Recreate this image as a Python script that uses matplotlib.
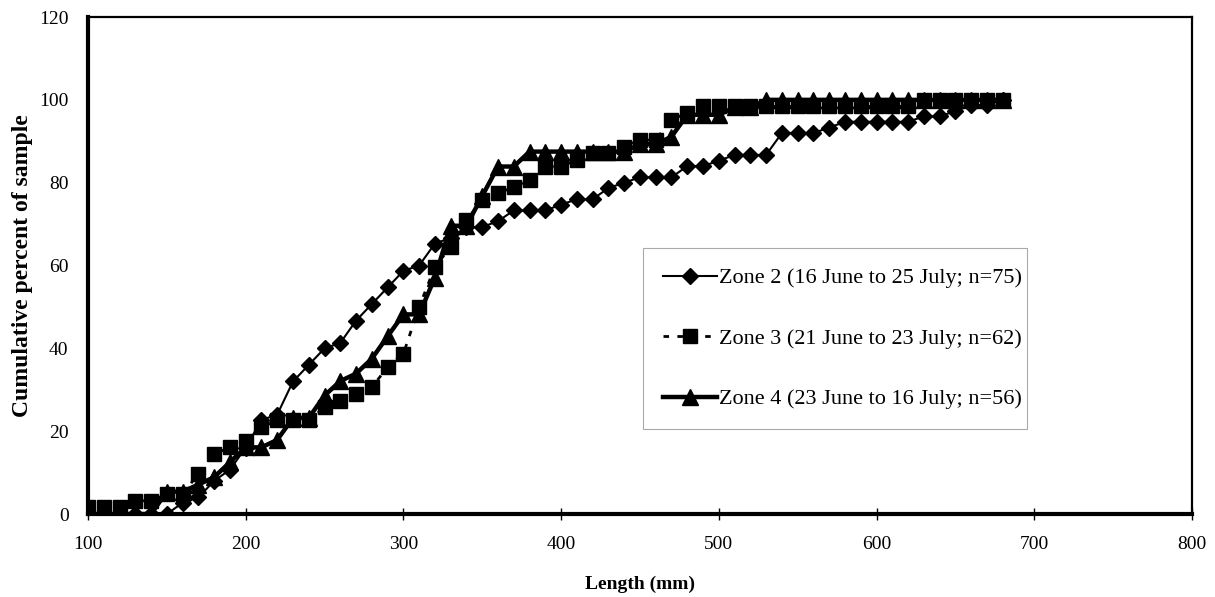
import matplotlib
matplotlib.use('Agg')
import matplotlib.pyplot as plt

plt.rcParams['font.family'] = ['Liberation Serif', 'DejaVu Serif']

# length classes (mm)
lengths = [100, 110, 120, 130, 140, 150, 160, 170, 180, 190,
           200, 210, 220, 230, 240, 250, 260, 270, 280, 290,
           300, 310, 320, 330, 340, 350, 360, 370, 380, 390,
           400, 410, 420, 430, 440, 450, 460, 470, 480, 490,
           500, 510, 520, 530, 540, 550, 560, 570, 580, 590,
           600, 610, 620, 630, 640, 650, 660, 670, 680]

# cumulative percent of sample per zone
zone2 = [0, 0, 0, 0, 0, 0, 2.7, 4.0, 8.0, 10.7,
         16.0, 22.7, 24.0, 32.0, 36.0, 40.0, 41.3, 46.7, 50.7, 54.7,
         58.7, 60.0, 65.3, 66.7, 69.3, 69.3, 70.7, 73.3, 73.3, 73.3,
         74.7, 76.0, 76.0, 78.7, 80.0, 81.3, 81.3, 81.3, 84.0, 84.0,
         85.3, 86.7, 86.7, 86.7, 92.0, 92.0, 92.0, 93.3, 94.7, 94.7,
         94.7, 94.7, 94.7, 96.0, 96.0, 97.3, 98.7, 98.7, 100.0]
zone3 = [1.6, 1.6, 1.6, 3.2, 3.2, 4.8, 4.8, 9.7, 14.5, 16.1,
         17.7, 21.0, 22.6, 22.6, 22.6, 25.8, 27.4, 29.0, 30.6, 35.5,
         38.7, 50.0, 59.7, 64.5, 71.0, 75.8, 77.4, 79.0, 80.6, 83.9,
         83.9, 85.5, 87.1, 87.1, 88.7, 90.3, 90.3, 95.2, 96.8, 98.4,
         98.4, 98.4, 98.4, 98.4, 98.4, 98.4, 98.4, 98.4, 98.4, 98.4,
         98.4, 98.4, 98.4, 100.0, 100.0, 100.0, 100.0, 100.0, 100.0]
zone4 = [0, 0, 0, 0, 0, 5.4, 5.4, 7.1, 8.9, 12.5,
         16.1, 16.1, 17.9, 23.2, 23.2, 28.6, 32.1, 33.9, 37.5, 42.9,
         48.2, 48.2, 57.1, 69.6, 69.6, 76.8, 83.9, 83.9, 87.5, 87.5,
         87.5, 87.5, 87.5, 87.5, 87.5, 89.3, 89.3, 91.1, 96.4, 96.4,
         96.4, 98.2, 98.2, 100.0, 100.0, 100.0, 100.0, 100.0, 100.0, 100.0,
         100.0, 100.0, 100.0, 100.0, 100.0, 100.0, 100.0, 100.0, 100.0]

labels = ['Zone 2 (16 June to 25 July; n=75)',
          'Zone 3 (21 June to 23 July; n=62)',
          'Zone 4 (23 June to 16 July; n=56)']

fig = plt.figure(figsize=(12.15, 5.97), dpi=100)
ax = fig.add_axes([0.0724, 0.139, 0.9086, 0.8325])

ax.plot(lengths, zone2, color='black', lw=1.5, marker='D', ms=8.5, label=labels[0])
ax.plot(lengths, zone3, color='black', lw=2, ls=(0, (2, 3)), marker='s', ms=9.5, label=labels[1])
ax.plot(lengths, zone4, color='black', lw=3.2, marker='^', ms=11, label=labels[2])

ax.set_xlim(100, 800)
ax.set_ylim(0, 120)
ax.set_xticks([100, 200, 300, 400, 500, 600, 700, 800])
ax.set_yticks([0, 20, 40, 60, 80, 100, 120])
ax.tick_params(axis='x', direction='inout', length=8, width=1, labelsize=14, pad=12)
ax.tick_params(axis='y', direction='in', length=0, labelsize=14, pad=14)

for side in ['left', 'bottom']:
    ax.spines[side].set_linewidth(3)
for side in ['top', 'right']:
    ax.spines[side].set_linewidth(1.6)

ax.set_xlabel('Length (mm)', fontsize=14, fontweight='bold', labelpad=16)
ax.set_ylabel('Cumulative percent of sample', fontsize=17, fontweight='bold')
ax.yaxis.set_label_coords(-0.05, 0.5)

leg = ax.legend(loc='center', bbox_to_anchor=(0.503, 0.175, 0.348, 0.356),
                mode='expand', borderaxespad=0, fontsize=16, labelspacing=1.8,
                handlelength=2.4, handletextpad=0.1, borderpad=0.9,
                fancybox=False, framealpha=1)
leg.get_frame().set_edgecolor('#aaaaaa')
leg.get_frame().set_linewidth(0.8)

fig.savefig('out.png', dpi=100)
